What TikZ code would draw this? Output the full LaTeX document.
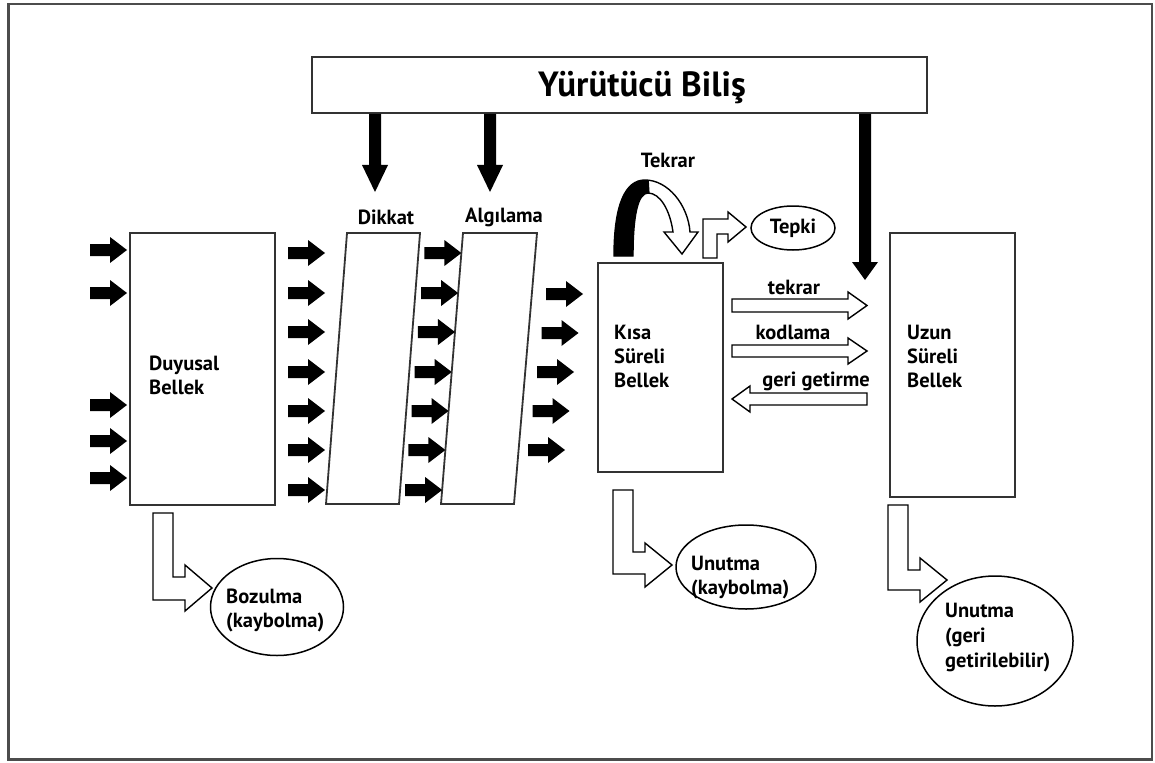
\documentclass[tikz,border=0pt]{standalone}
\usepackage{fontspec}
\setmainfont{PT Sans}
\usetikzlibrary{shapes.geometric}
\tikzset{
  lbl/.style={font=\bfseries\fontsize{20.5}{24}\selectfont, inner sep=0pt},
  boxline/.style={draw=black!80, line width=1.8pt, fill=white},
  hollow/.style={draw=black, line width=1.4pt, fill=white, line join=miter},
  oval/.style={draw=black, line width=1.5pt, ellipse, inner sep=0pt},
  pics/inarr/.style={code={\fill[black] (-37,-6) -- (-17,-6) -- (-17,-13) -- (0,0) -- (-17,13) -- (-17,6) -- (-37,6) -- cycle;}}
}
\newcommand\blkdown[4]{% x, ytop, yheadstart, ytip
  \fill[black] (#1-6,#2) -- (#1+6,#2) -- (#1+6,#3) -- (#1+13,#3) -- (#1,#4) -- (#1-13,#3) -- (#1-6,#3) -- cycle;}
\begin{document}
\begin{tikzpicture}[x=1pt,y=-1pt]
\useasboundingbox (0,0) rectangle (1155,762);
\fill[white] (0,0) rectangle (1155,762);
% outer frame
\draw[draw=black!70, line width=2.5pt] (8.5,4) rectangle (1152,759.5);

% title box
\node[boxline, minimum width=615pt, minimum height=56pt, inner sep=0pt] (yb) at (619.5,85) {};
\node[font=\bfseries\fontsize{35}{38}\selectfont, inner sep=0pt] (ybt) at (642,88) {Yürütücü Biliş};

% black down arrows
\blkdown{375}{114}{165}{192}
\blkdown{490}{114}{165}{192}
\blkdown{865}{114}{262}{280}

% labels Dikkat / Algilama
\node[lbl] (ldik) at (386,217) {Dikkat};
\node[lbl] (lalg) at (504,217) {Algılama};

% Duyusal Bellek
\node[boxline, minimum width=145pt, minimum height=272pt, inner sep=0pt] (duy) at (202.5,369) {};
\node[lbl, anchor=west, align=left] (duyt) at (149,375) {Duyusal\\Bellek};

% input arrows
\foreach \y in {250,293,405,441,478} \pic at (127,\y) {inarr};

% Dikkat parallelogram
\coordinate (d1) at (347,233); \coordinate (d2) at (420,233);
\coordinate (d3) at (399,504); \coordinate (d4) at (326,504);
\draw[boxline] (d1) -- (d2) -- (d3) -- (d4) -- cycle;
\foreach \y in {253,293,332,372,411,450,490} \pic at (325,\y) {inarr};

% Algilama parallelogram
\coordinate (a1) at (463,233); \coordinate (a2) at (537,233);
\coordinate (a3) at (514,504); \coordinate (a4) at (441,504);
\draw[boxline] (a1) -- (a2) -- (a3) -- (a4) -- cycle;
\foreach \y in {253,293,332,372,411,450,490} \pic at ({463-22*(\y-233)/271},\y) {inarr};

% arrows into Kisa
\foreach \y in {294,333,372,411,450} \pic at ({583-18*(\y-294)/156},\y) {inarr};

% Kisa Sureli Bellek
\node[boxline, minimum width=125pt, minimum height=209pt, inner sep=0pt] (ksb) at (660.5,367.5) {};
\node[lbl, anchor=west, align=left] (ksbt) at (614,356) {Kısa\\Süreli\\Bellek};

% Tekrar loop arrow
\draw[hollow] (614,256) .. controls (614,205) and (625,180) .. (645,180)
  .. controls (668,180) and (688,205) .. (690,232) -- (698,232) -- (682,254) -- (664,232) -- (673,232)
  .. controls (670,210) and (660,193) .. (648,193)
  .. controls (638,193) and (633,215) .. (633,256) -- cycle;
\begin{scope}
\clip (600,150) -- (647,150) -- (650,200) -- (600,262) -- cycle;
\fill[black] (614,256) .. controls (614,205) and (625,180) .. (645,180)
  .. controls (668,180) and (688,205) .. (690,232) -- (698,232) -- (682,254) -- (664,232) -- (673,232)
  .. controls (670,210) and (660,193) .. (648,193)
  .. controls (638,193) and (633,215) .. (633,256) -- cycle;
\end{scope}
\begin{scope}
\clip (600,150) rectangle (640,262);
\fill[black] (614,256) .. controls (614,205) and (625,180) .. (645,180) -- (648,193)
  .. controls (638,193) and (633,215) .. (633,256) -- cycle;
\end{scope}
\node[lbl] (ltek) at (668,160) {Tekrar};

% Tepki
\draw[hollow] (703,258) -- (703,219) -- (728,219) -- (728,212) -- (746,227) -- (728,242) -- (728,234) -- (717,234) -- (717,258) -- cycle;
\node[oval, minimum width=84pt, minimum height=44pt] (tep) at (793,228) {};
\node[lbl] (tept) at (793,228) {Tepki};

% middle arrows
\draw[hollow] (732,299) -- (848,299) -- (848,292) -- (867,305.5) -- (848,319) -- (848,312) -- (732,312) -- cycle;
\node[lbl] (ltk2) at (794,287) {tekrar};
\draw[hollow] (732,345) -- (848,345) -- (848,338) -- (867,351) -- (848,364) -- (848,357) -- (732,357) -- cycle;
\node[lbl] (lkod) at (793,332) {kodlama};
\draw[hollow] (867,393) -- (750,393) -- (750,386) -- (732,399) -- (750,412) -- (750,405) -- (867,405) -- cycle;
\node[lbl] (lger) at (816,381) {geri getirme};

% Uzun Sureli Bellek
\node[boxline, minimum width=125pt, minimum height=264pt, inner sep=0pt] (usb) at (952.5,365) {};
\node[lbl, anchor=west, align=left] (usbt) at (907,356) {Uzun\\Süreli\\Bellek};

% bottom L arrows and ellipses
\draw[hollow] (153,513) -- (173,513) -- (173,577) -- (185,577) -- (185,565) -- (212,588) -- (185,611) -- (185,600) -- (153,600) -- cycle;
\node[oval, minimum width=133pt, minimum height=97pt] (boz) at (277,607) {};
\node[lbl, anchor=west, align=left] (bozt) at (226,610) {Bozulma\\(kaybolma)};

\draw[hollow] (613,490) -- (633,490) -- (633,552) -- (645,552) -- (645,543) -- (672,565) -- (645,587) -- (645,574) -- (613,574) -- cycle;
\node[oval, minimum width=140pt, minimum height=84pt] (un1) at (746,567) {};
\node[lbl, anchor=west, align=left] (un1t) at (691,578) {Unutma\\(kaybolma)};

\draw[hollow] (888,505) -- (908,505) -- (908,570) -- (920,570) -- (920,558) -- (947,580) -- (920,602) -- (920,590) -- (888,590) -- cycle;
\node[oval, minimum width=156pt, minimum height=130pt] (un2) at (995,641) {};
\node[lbl, anchor=west, align=left, font=\bfseries\fontsize{20.5}{25}\selectfont] (un2t) at (945,638) {Unutma\\(geri\\getirilebilir)};
\end{tikzpicture}
\end{document}
